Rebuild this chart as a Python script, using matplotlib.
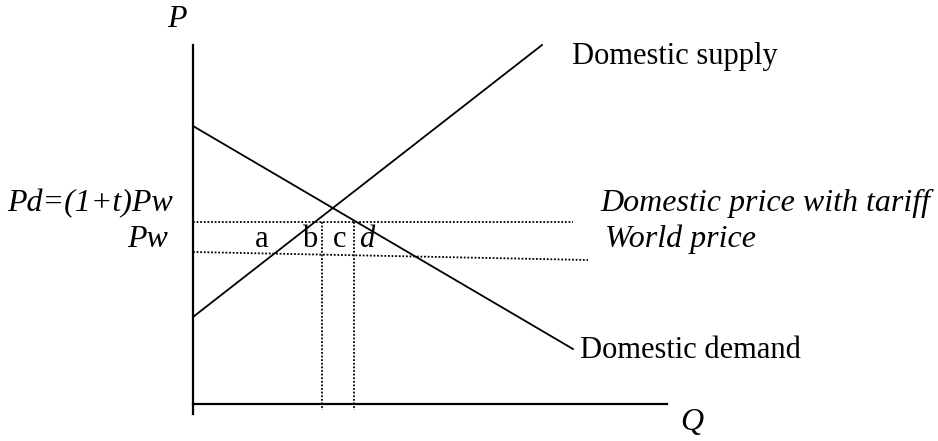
import numpy as np
import matplotlib.pyplot as plt

plt.rcParams['font.family'] = ['Liberation Serif', 'DejaVu Serif']

# line endpoints in diagram units (Q right, P up)
demand_q = [0, 380]
demand_p = [278, 55]
supply_q = [0, 349]
supply_p = [87, 359]
pd_q = [0, 380]
pd_p = [182, 182]
pw_q = [0, 395]
pw_p = [152, 144]
q_marks = [129, 161]
q_marks_top = 182

# labels for the areas between the two prices
area_labels = ['a', 'b', 'c', 'd']
area_q = [69, 117, 147, 174]
area_style = ['normal', 'normal', 'normal', 'italic']

fig = plt.figure(figsize=(9.38, 4.41), dpi=100)
ax = fig.add_axes([0, 0, 1, 1])
ax.set_xlim(-193, 745)
ax.set_ylim(-37, 404)
ax.axis('off')

fs = 22
fs_it = 23

# axes
ax.plot([0, 0], [-10, 359], color='black', lw=1.6)
ax.plot([0, 474], [0, 0], color='black', lw=1.6)

ax.plot(demand_q, demand_p, color='black', lw=1.3)
ax.plot(supply_q, supply_p, color='black', lw=1.3)

dots = (0, (1, 1))
ax.plot(pd_q, pd_p, color='black', lw=1.3, ls=dots)
ax.plot(pw_q, pw_p, color='black', lw=1.3, ls=dots)
for q in q_marks:
    ax.plot([q, q], [q_marks_top, -6], color='black', lw=1.3, ls=dots)

ax.text(-16, 377, 'P', style='italic', fontsize=fs_it, ha='center', va='baseline')
ax.text(499, -26, 'Q', style='italic', fontsize=fs_it, ha='center', va='baseline')
ax.text(-20, 193, 'Pd=(1+t)Pw', style='italic', fontsize=fs_it, ha='right', va='baseline')
ax.text(-25, 157, 'Pw', style='italic', fontsize=fs_it, ha='right', va='baseline')

for lab, q, st in zip(area_labels, area_q, area_style):
    ax.text(q, 157, lab, style=st, fontsize=fs, ha='center', va='baseline')

ax.text(379, 340, 'Domestic supply', fontsize=fs, ha='left', va='baseline')
ax.text(387, 46, 'Domestic demand', fontsize=fs, ha='left', va='baseline')
ax.text(407, 193, 'Domestic price with tariff', style='italic', fontsize=fs_it, ha='left', va='baseline')
ax.text(412, 157, 'World price', style='italic', fontsize=fs_it, ha='left', va='baseline')

plt.savefig('out.png', dpi=100)
